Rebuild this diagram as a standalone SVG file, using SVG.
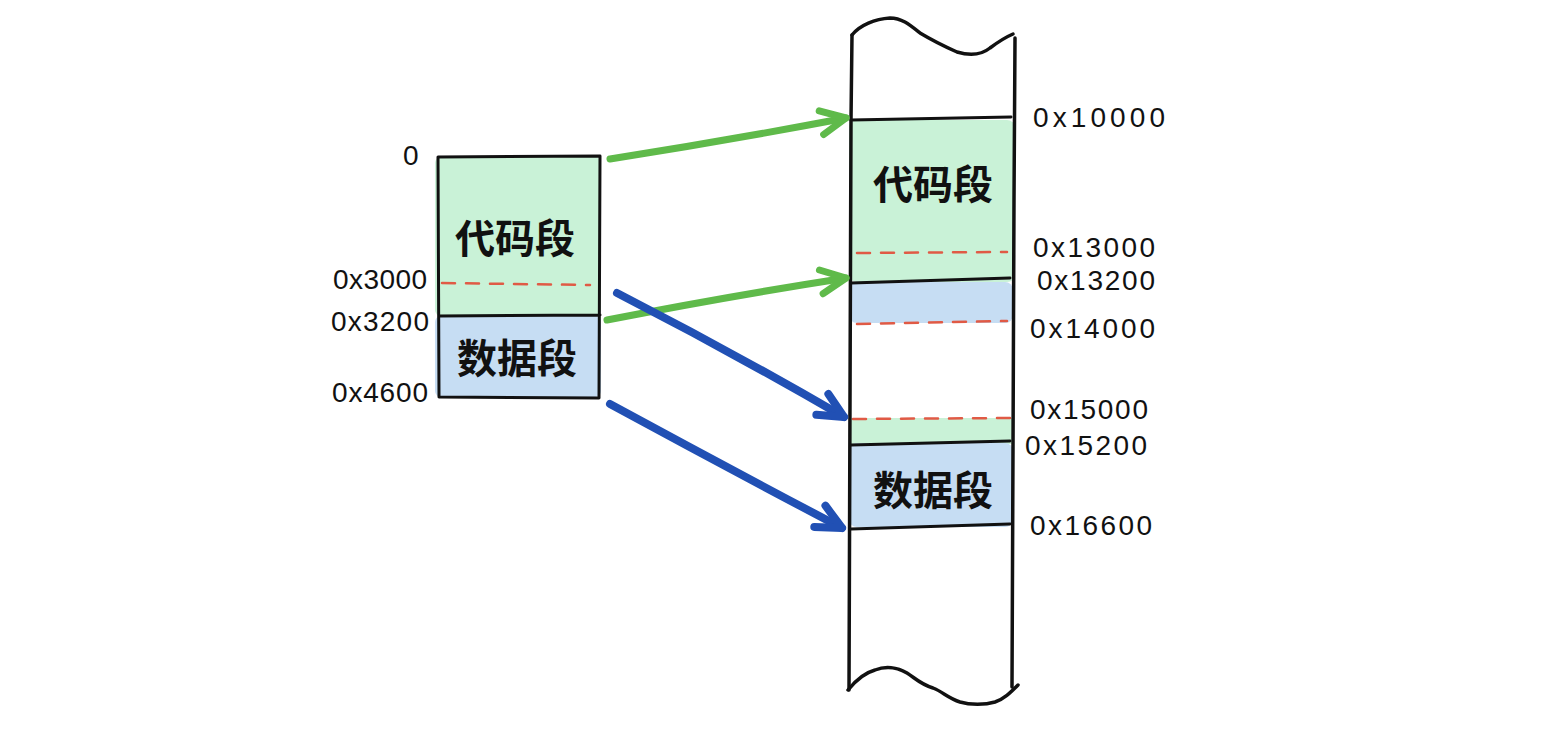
<svg xmlns="http://www.w3.org/2000/svg" width="1554" height="750" viewBox="0 0 1554 750">
<style>
.ink{fill:none;stroke:#111;stroke-width:3;stroke-linecap:round;stroke-linejoin:round}
.thick{fill:none;stroke:#111;stroke-width:3.5;stroke-linecap:round;stroke-linejoin:round}
.dash{fill:none;stroke:#e05a45;stroke-width:2.5;stroke-dasharray:13 11;stroke-linecap:round}
.code{fill:#c9f2d7}
.data{fill:#c6ddf3}
.lbl{font-family:"Liberation Sans","DejaVu Sans",sans-serif;font-size:28px;fill:#111}
.seg{font-family:"Noto Sans CJK SC","Noto Sans CJK TC",sans-serif;font-size:40px;font-weight:700;fill:#111;text-anchor:middle}
.ga{fill:none;stroke:#5fba4a;stroke-width:7;stroke-linecap:round}
.ba{fill:none;stroke:#2150b4;stroke-width:8;stroke-linecap:round}
</style>
<defs>
<marker id="hg" markerUnits="userSpaceOnUse" markerWidth="60" markerHeight="60" refX="0" refY="0" orient="auto" overflow="visible">
<path d="M-25,-12 L0,0 L-25,12" fill="none" stroke="#5fba4a" stroke-width="7" stroke-linecap="round" stroke-linejoin="round"/>
</marker>
<marker id="hb" markerUnits="userSpaceOnUse" markerWidth="60" markerHeight="60" refX="0" refY="0" orient="auto" overflow="visible">
<path d="M-25,-12 L0,0 L-25,12" fill="none" stroke="#2150b4" stroke-width="8" stroke-linecap="round" stroke-linejoin="round"/>
</marker>
</defs>
<rect width="1554" height="750" fill="#fff"/>

<g id="left-block">
<g id="left-code">
<rect class="code" x="435" y="157" width="166" height="159" rx="6"/>
<path class="dash" d="M442,283 L590,285"/>
<text class="seg" x="515" y="253">代码段</text>
</g>
<g id="left-data">
<rect class="data" x="435" y="316" width="166" height="81" rx="6"/>
<text class="seg" x="517" y="373">数据段</text>
</g>
<path class="ink" d="M438,157 L600,156 M438,157 L439,397 M600,156 L599,398 M439,316 L600,315 M439,397 L598,398"/>
</g>

<g id="left-labels">
<text class="lbl" x="403" y="165">0</text>
<text class="lbl" x="333" y="289" textLength="94" lengthAdjust="spacing">0x3000</text>
<text class="lbl" x="331" y="331" textLength="98" lengthAdjust="spacing">0x3200</text>
<text class="lbl" x="332" y="402" textLength="96" lengthAdjust="spacing">0x4600</text>
</g>

<g id="right-memory">
<rect class="code" x="849" y="120" width="166" height="162" rx="8"/>
<rect class="data" x="849" y="282" width="164" height="41" rx="8"/>
<rect class="code" x="851" y="418" width="162" height="26"/>
<rect class="data" x="849" y="443" width="164" height="84" rx="8"/>
<path class="dash" d="M857,253 L1007,252"/>
<path class="dash" d="M857,324 L1007,321"/>
<path class="dash" d="M853,419 L1015,418"/>
<text class="seg" x="933" y="199">代码段</text>
<text class="seg" x="933" y="505">数据段</text>
<path class="ink" d="M851,120 L1011,117 M851,283 L1010,278 M851,445 L1010,441 M851,529 L1010,524"/>
<path class="thick" d="M852,35 C860,25 875,19 890,18 C902,18 910,25 920,33 C935,42 948,48 957,52 C967,55 980,56 990,48 C998,42 1006,37 1013,34"/>
<path class="thick" d="M852,35 L851,120 L850,400 L849,690"/>
<path class="thick" d="M1015,38 L1014,200 L1013,450 L1012,687"/>
<path class="thick" d="M848,690 C856,680 864,673 875,670 C885,666 897,667 907,673 C915,678 920,684 933,688 C943,692 948,698 960,702 C970,705 985,705 995,702 C1004,699 1010,693 1018,685"/>
</g>

<g id="right-labels">
<text class="lbl" x="1033" y="127" textLength="132" lengthAdjust="spacing">0x10000</text>
<text class="lbl" x="1033" y="257" textLength="122" lengthAdjust="spacing">0x13000</text>
<text class="lbl" x="1037" y="290" textLength="118" lengthAdjust="spacing">0x13200</text>
<text class="lbl" x="1030" y="338" textLength="125" lengthAdjust="spacing">0x14000</text>
<text class="lbl" x="1030" y="419" textLength="118" lengthAdjust="spacing">0x15000</text>
<text class="lbl" x="1025" y="455" textLength="122" lengthAdjust="spacing">0x15200</text>
<text class="lbl" x="1030" y="535" textLength="122" lengthAdjust="spacing">0x16600</text>
</g>

<g id="connectors">
<path class="ga" d="M610,159 Q730,140 846,118" marker-end="url(#hg)"/>
<path class="ga" d="M607,320 Q730,296 846,278" marker-end="url(#hg)"/>
<path class="ba" d="M617,293 Q732,352 844,417" marker-end="url(#hb)"/>
<path class="ba" d="M610,404 Q728,468 842,528" marker-end="url(#hb)"/>
</g>
</svg>
